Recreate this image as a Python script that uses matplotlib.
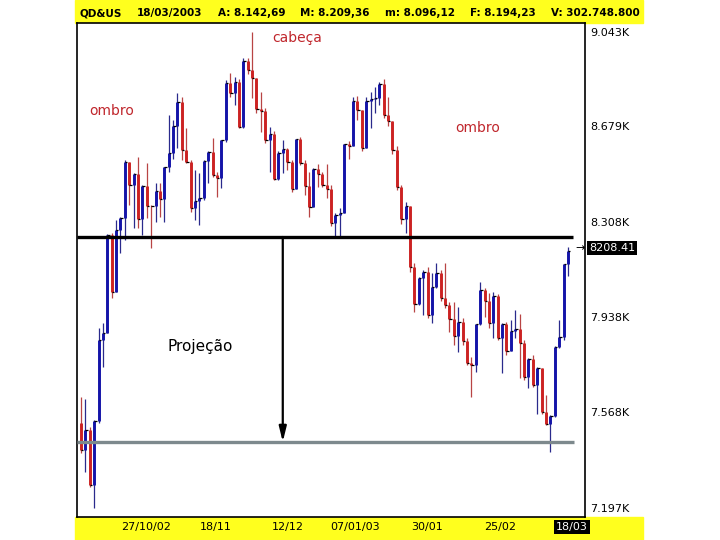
import numpy as np
import matplotlib.pyplot as plt
from matplotlib.patches import Rectangle

# DJIA daily bars, 07/10/2002 .. 18/03/2003
opens = [7528, 7423, 7501, 7286, 7534, 7850, 7877, 8255, 8036, 8275,
         8322, 8538, 8450, 8494, 8317, 8444, 8369, 8368, 8427, 8397,
         8518, 8572, 8678, 8771, 8586, 8537, 8359, 8386, 8398, 8542,
         8579, 8487, 8475, 8623, 8845, 8805, 8849, 8676, 8932, 8896,
         8863, 8743, 8738, 8623, 8646, 8473, 8574, 8589, 8538, 8434,
         8627, 8535, 8447, 8365, 8511, 8493, 8448, 8433, 8304, 8333,
         8342, 8608, 8602, 8774, 8741, 8595, 8776, 8785, 8786, 8843,
         8723, 8698, 8587, 8443, 8319, 8369, 8131, 7990, 8089, 8111,
         7945, 8054, 8110, 8013, 7985, 7929, 7864, 7920, 7843, 7758,
         7750, 7909, 8041, 8001, 7915, 8018, 7858, 7910, 7807, 7885,
         7891, 7838, 7705, 7776, 7674, 7740, 7568, 7524, 7552, 7822,
         7860, 8143]
highs = [7628, 7620, 7510, 7540, 7895, 7914, 8260, 8262, 8314, 8326,
         8547, 8539, 8496, 8558, 8448, 8535, 8372, 8457, 8457, 8519,
         8720, 8700, 8806, 8790, 8671, 8545, 8508, 8496, 8547, 8582,
         8632, 8500, 8624, 8857, 8884, 8869, 8860, 8942, 8942, 9043,
         8865, 8810, 8748, 8675, 8660, 8580, 8624, 8593, 8545, 8630,
         8636, 8545, 8500, 8516, 8530, 8500, 8530, 8450, 8340, 8360,
         8610, 8620, 8790, 8795, 8741, 8790, 8810, 8830, 8850, 8860,
         8790, 8698, 8600, 8450, 8384, 8370, 8147, 8093, 8120, 8132,
         8108, 8147, 8120, 8147, 7995, 7996, 7977, 7935, 7856, 7783,
         7912, 8073, 8050, 8031, 8035, 8025, 7915, 7918, 7926, 7965,
         7950, 7850, 7780, 7790, 7745, 7740, 7635, 7556, 7825, 7926,
         8145, 8209]
lows = [7411, 7337, 7278, 7197, 7527, 7744, 7876, 8011, 8035, 8186,
        8236, 8372, 8283, 8283, 8256, 8322, 8205, 8306, 8326, 8306,
        8500, 8550, 8593, 8547, 8535, 8345, 8314, 8295, 8390, 8457,
        8481, 8403, 8438, 8615, 8790, 8760, 8671, 8671, 8880, 8787,
        8729, 8655, 8613, 8500, 8469, 8469, 8496, 8508, 8422, 8434,
        8527, 8411, 8326, 8364, 8440, 8440, 8400, 8290, 8250, 8250,
        8342, 8550, 8602, 8700, 8580, 8595, 8670, 8730, 8760, 8710,
        8680, 8570, 8430, 8300, 8263, 8112, 7957, 7984, 7945, 7934,
        7915, 8050, 8000, 7973, 7880, 7829, 7802, 7829, 7752, 7628,
        7725, 7907, 7938, 7895, 7856, 7849, 7721, 7790, 7807, 7856,
        7701, 7694, 7663, 7667, 7562, 7562, 7519, 7414, 7550, 7818,
        7850, 8096]
closes = [7423, 7501, 7286, 7534, 7850, 7877, 8255, 8036, 8275, 8322,
          8538, 8450, 8494, 8317, 8444, 8369, 8368, 8427, 8397, 8518,
          8572, 8678, 8771, 8586, 8537, 8359, 8386, 8398, 8542, 8579,
          8487, 8475, 8623, 8845, 8805, 8849, 8676, 8932, 8896, 8863,
          8743, 8738, 8623, 8646, 8473, 8574, 8589, 8538, 8434, 8627,
          8535, 8447, 8365, 8511, 8493, 8448, 8433, 8304, 8333, 8342,
          8608, 8602, 8774, 8741, 8595, 8776, 8785, 8786, 8843, 8723,
          8698, 8587, 8443, 8319, 8369, 8131, 7990, 8089, 8111, 7945,
          8054, 8110, 8013, 7985, 7929, 7864, 7920, 7843, 7758, 7750,
          7909, 8041, 8001, 7915, 8018, 7858, 7910, 7807, 7885, 7891,
          7838, 7705, 7776, 7674, 7740, 7568, 7524, 7552, 7822, 7860,
          8142, 8194]

price_ticks = [9043, 8679, 8308, 7938, 7568, 7197]
price_labels = ["9.043K", "8.679K", "8.308K", "7.938K", "7.568K", "7.197K"]
date_pos = [14.8, 30.8, 47.2, 62.5, 78.9, 95.5]
date_labels = ["27/10/02", "18/11", "12/12", "07/01/03", "30/01", "25/02"]
last_date = "18/03"
last_value = "8208.41"

header = [("QD&US", 80), ("18/03/2003", 137), ("A: 8.142,69", 218),
          ("M: 8.209,36", 300), ("m: 8.096,12", 385), ("F: 8.194,23", 470),
          ("V: 302.748.800", 551)]

neckline = 8248
target = 7453
proj_x = 46

YELLOW = "#ffff1e"
UP_THIN, UP_BODY = "#2a2a8c", "#1414a8"
DN_THIN, DN_BODY = "#b84444", "#cc2222"
LABEL_RED = "#c0262c"

W, H = 720, 540


def fx(px):
    return px / W


def fy(py):
    return 1 - py / H


def main():
    o = np.array(opens, float)
    h = np.array(highs, float)
    l = np.array(lows, float)
    c = np.array(closes, float)
    x = np.arange(len(c))
    up = c >= o

    fig = plt.figure(figsize=(7.2, 5.4), dpi=100)
    # yellow header and date strip, kept behind the axes
    fig.patches.append(Rectangle((fx(75), fy(23)), fx(643) - fx(75), fy(0) - fy(23),
                                 transform=fig.transFigure, color=YELLOW, zorder=-5))
    fig.patches.append(Rectangle((fx(75), fy(540)), fx(643) - fx(75), fy(517) - fy(540),
                                 transform=fig.transFigure, color=YELLOW, zorder=-5))

    ax = fig.add_axes([fx(77), fy(517), fx(585) - fx(77), fy(23) - fy(517)])
    ax.set_facecolor("white")

    ax.vlines(x[up], l[up], h[up], color=UP_THIN, lw=0.9)
    ax.vlines(x[up], o[up], c[up], color=UP_BODY, lw=2.1)
    ax.vlines(x[~up], l[~up], h[~up], color=DN_THIN, lw=0.9)
    ax.vlines(x[~up], o[~up], c[~up], color=DN_BODY, lw=2.1)
    ax.hlines(c, x, x + 0.55, color="black", lw=0.9)

    ax.hlines(neckline, -1, 112.2, color="black", lw=2.4, zorder=3)
    ax.hlines(target, -1, 112.4, color="#7d898d", lw=2.4, zorder=3)
    ax.annotate("", xy=(proj_x, target), xytext=(proj_x, neckline),
                arrowprops=dict(arrowstyle="-|>,head_width=0.22,head_length=0.9",
                                color="black", lw=1.6, shrinkA=0, shrinkB=0),
                zorder=4)

    ax.set_xlim(-0.91, 114.9)
    ax.set_ylim(7162, 9078)

    ax.yaxis.tick_right()
    ax.set_yticks(price_ticks)
    ax.set_yticklabels(price_labels)
    ax.set_xticks(date_pos)
    ax.set_xticklabels(date_labels)
    ax.tick_params(axis="y", length=0, pad=4, labelsize=8)
    ax.tick_params(axis="x", length=0, pad=3.5, labelsize=8)
    for s in ax.spines.values():
        s.set_color("black")
        s.set_linewidth(1.2)

    fig.text(fx(297), fy(38), "cabeça", color=LABEL_RED, fontsize=10,
             ha="center", va="center")
    fig.text(fx(112), fy(111), "ombro", color=LABEL_RED, fontsize=10,
             ha="center", va="center")
    fig.text(fx(478), fy(128), "ombro", color=LABEL_RED, fontsize=10,
             ha="center", va="center")
    fig.text(fx(200), fy(346), "Projeção", color="black", fontsize=11,
             ha="center", va="center")

    for txt, px in header:
        fig.text(fx(px), fy(13), txt, fontsize=7.5, fontweight="bold",
                 ha="left", va="center")

    fig.text(fx(572), fy(527), last_date, color="white", fontsize=8,
             ha="center", va="center",
             bbox=dict(boxstyle="square,pad=0.15", fc="black", ec="none"))
    fig.text(fx(589), fy(248), last_value, color="white", fontsize=8,
             ha="left", va="center",
             bbox=dict(boxstyle="square,pad=0.15", fc="black", ec="none"))
    fig.text(fx(580), fy(248), "→", color="black", fontsize=8,
             ha="center", va="center")

    fig.savefig("out.png", dpi=100)


if __name__ == "__main__":
    main()
